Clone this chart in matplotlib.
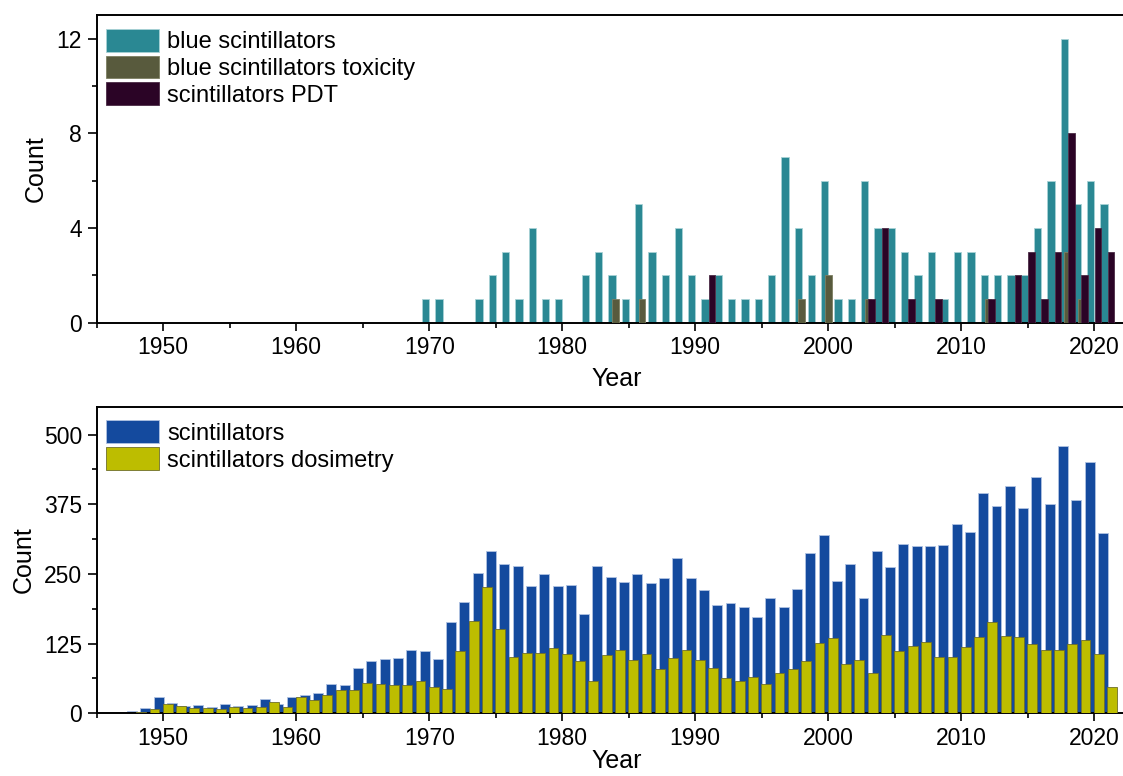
import numpy as np
import matplotlib
matplotlib.use("Agg")
import matplotlib.pyplot as plt
from matplotlib.ticker import MultipleLocator

plt.rcParams['font.family'] = ['Liberation Sans', 'DejaVu Sans']

# top panel: publication counts per year
top_years = list(range(1970, 2022))
blue_scint = [1, 1, 0, 0, 1, 2, 3, 1, 4, 1,
              1, 0, 2, 3, 2, 1, 5, 3, 2, 4,
              2, 1, 2, 1, 1, 1, 2, 7, 4, 2,
              6, 1, 1, 6, 4, 4, 3, 2, 3, 1,
              3, 3, 2, 2, 2, 2, 4, 6, 12, 5,
              6, 5]
tox_years = [1984, 1986, 1998, 2000, 2003, 2012, 2018, 2019]
blue_tox = [1, 1, 1, 2, 1, 1, 3, 1]
pdt_years = [1991, 2003, 2004, 2006, 2008, 2012, 2014, 2015, 2016, 2017, 2018, 2019, 2020, 2021]
scint_pdt = [2, 1, 4, 1, 1, 1, 2, 3, 1, 3, 8, 2, 4, 3]

# bottom panel
bot_years = list(range(1948, 2022))
scint = [5, 10, 29, 18, 13, 14, 11, 16, 13, 14,
         26, 17, 30, 33, 36, 52, 50, 82, 94, 98,
         100, 114, 112, 98, 163, 200, 252, 291, 268, 264,
         229, 250, 229, 231, 179, 264, 244, 236, 250, 234,
         242, 278, 242, 222, 194, 198, 191, 172, 207, 191,
         223, 287, 319, 237, 267, 207, 292, 263, 303, 301,
         300, 302, 340, 325, 396, 371, 407, 368, 424, 375,
         480, 382, 450, 324]
dosim = [3, 7, 17, 13, 10, 10, 8, 11, 10, 11,
         21, 12, 29, 23, 33, 42, 42, 55, 53, 50,
         50, 58, 48, 43, 112, 166, 226, 152, 101, 108,
         108, 117, 106, 93, 58, 105, 114, 95, 106, 79,
         100, 113, 95, 82, 63, 58, 66, 52, 73, 79,
         94, 127, 135, 89, 95, 73, 141, 112, 121, 128,
         101, 101, 119, 136, 164, 138, 136, 124, 114, 113,
         125, 131, 106, 47]

W, H = 1123, 776
fig = plt.figure(figsize=(W / 100, H / 100), dpi=100)
left = 96.7 / W
width = (W - 96.7) / W
ax1 = fig.add_axes([left, 1 - 322.7 / H, width, 307.7 / H])
ax2 = fig.add_axes([left, 1 - 713.3 / H, width, 306.6 / H])

ty = np.array(top_years)
ax1.bar(ty - 0.26, blue_scint, width=0.55, color='#2a8893', edgecolor='#a8d2d6',
        linewidth=0.6, label='blue scintillators', zorder=2)
ax1.bar(np.array(tox_years), blue_tox, width=0.5, color='#585a3d', edgecolor='#7d7f62',
        linewidth=0.6, label='blue scintillators toxicity', zorder=3)
ax1.bar(np.array(pdt_years) + 0.27, scint_pdt, width=0.5, color='#2b0426', edgecolor='#4a2a45',
        linewidth=0.6, label='scintillators PDT', zorder=4)

by = np.array(bot_years)
ax2.bar(by - 0.35, scint, width=0.75, color='#144a9e', edgecolor='#b0c2e2',
        linewidth=0.6, label='scintillators', zorder=2)
ax2.bar(by + 0.34, dosim, width=0.74, color='#bdbd00', edgecolor='#6e6e2a',
        linewidth=0.6, label='scintillators dosimetry', zorder=3)

ax1.set_ylim(0, 13)
ax1.yaxis.set_major_locator(MultipleLocator(4))
ax1.yaxis.set_minor_locator(MultipleLocator(2))
ax2.set_ylim(0, 550)
ax2.yaxis.set_major_locator(MultipleLocator(125))
ax2.yaxis.set_minor_locator(MultipleLocator(62.5))

for ax in (ax1, ax2):
    ax.set_xlim(1945, 2022.16)
    ax.xaxis.set_major_locator(MultipleLocator(10))
    ax.xaxis.set_minor_locator(MultipleLocator(5))
    ax.spines['right'].set_visible(False)
    for s in ('left', 'bottom', 'top'):
        ax.spines[s].set_linewidth(1.4)
    ax.tick_params(which='major', direction='out', length=6.5, width=1.2, labelsize=16.5, pad=4)
    ax.tick_params(which='minor', direction='out', length=3.6, width=1.2)
    ax.tick_params(axis='x', which='major', length=5.8)
    ax.tick_params(axis='x', which='minor', length=3.5)
    ax.set_xlabel('Year', fontsize=18)
    ax.set_ylabel('Count', fontsize=18)
    ax.legend(loc='upper left', bbox_to_anchor=(0.0095, 0.955), frameon=False,
              fontsize=17, borderpad=0, borderaxespad=0, handlelength=2.23,
              handleheight=1.1, handletextpad=0.34, labelspacing=0.1)

ax1.xaxis.set_label_coords(0.507, -0.145)
ax2.xaxis.set_label_coords(0.507, -0.118)
ax1.yaxis.set_label_coords(-0.048, 0.5)
ax2.yaxis.set_label_coords(-0.059, 0.5)

fig.savefig('out.png', dpi=100)
